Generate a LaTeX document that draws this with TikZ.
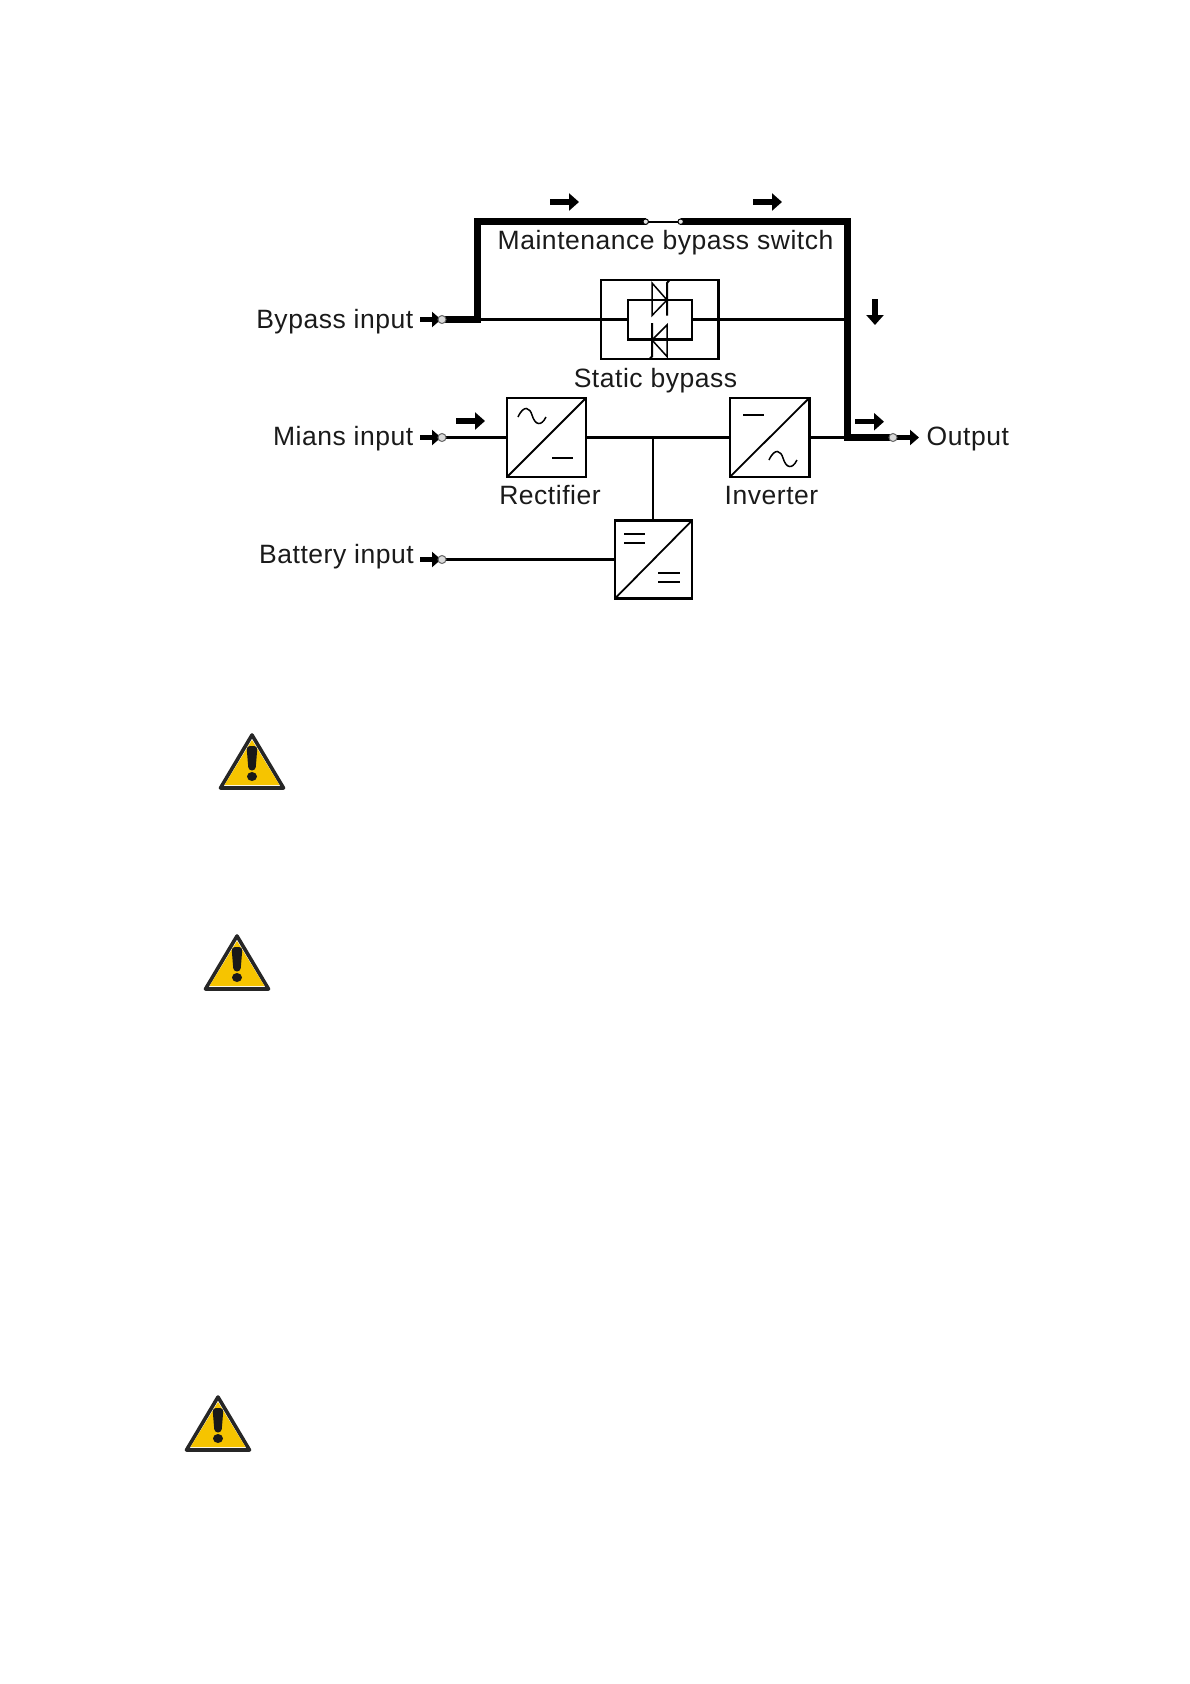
\documentclass[tikz,border=0pt]{standalone}
\usepackage{fontspec}
\setmainfont[LetterSpace=2.0]{Liberation Sans}
\usetikzlibrary{arrows.meta}
\definecolor{warnyellow}{HTML}{F6C400}
\definecolor{inkdark}{HTML}{1A1A1A}
\tikzset{
  lbl/.style={font=\fontsize{26.5}{30}\selectfont,text=inkdark,inner sep=0pt},
  thin wire/.style={line width=2.4pt,black},
  thick wire/.style={line width=6.5pt,black,line join=miter},
  blockbox/.style={draw=black,line width=2.5pt,minimum width=#1,inner sep=0pt,outer sep=0pt},
  flow/.style={line width=5.5pt,-{Triangle[length=10pt,width=17pt]},black},
  smallflow/.style={line width=5.5pt,-{Triangle[length=9pt,width=15pt]},black},
  terminal/.style={circle,draw=black!60,line width=1pt,fill=black!15,minimum size=8pt,inner sep=0pt},
  tinyterminal/.style={circle,draw=black,line width=1pt,fill=black!10,minimum size=5.5pt,inner sep=0pt},
  glyph/.style={line width=1.5pt,black},
  pics/warnsign/.style={code={
    \draw[line width=3.6pt,line join=round,black!85] (0,0) -- (31.5,53) -- (-31.5,53) -- cycle;
    \fill[warnyellow] (0,5) -- (27.5,50) -- (-27.5,50) -- cycle;
    \fill[black!90,rounded corners=3.5pt] (-5.5,11) -- (5.5,11) -- (3.5,35.5) -- (-3.5,35.5) -- cycle;
    \fill[black!90] (0,41.5) ellipse (5 and 4.5);
  }}
}
\begin{document}
\begin{tikzpicture}[x=1pt,y=-1pt]
\useasboundingbox (0,0) rectangle (1190,1684);
\fill[white] (0,0) rectangle (1190,1684);

% blocks
\node[blockbox=117.5pt,minimum height=79pt] (sb) at (659.5,319.5) {};
\node[blockbox=64pt,minimum height=39.5pt] (sbin) at (660,319.5) {};
\node[blockbox=79pt,minimum height=79pt] (rect) at (546.5,437.5) {};
\node[blockbox=79.5pt,minimum height=79pt] (inv) at (769.5,437.5) {};
\node[blockbox=77pt,minimum height=78pt] (dc) at (653.5,559.5) {};

% coordinates
\coordinate (byp) at (442,319.5);
\coordinate (tl) at (477.5,221.7);
\coordinate (tr) at (847.5,221.7);
\coordinate (busr) at (847.5,437.5);
\coordinate (byj) at (477.5,319.5);
\coordinate (orj) at (847.5,319.5);
\coordinate (junc) at (653,437.5);
\coordinate (mainsT) at (442,437.5);
\coordinate (battT) at (442,559.5);
\coordinate (swl) at (645.7,221.7);
\coordinate (swr) at (680.7,221.7);

% thin wires
\draw[thin wire] (byj) -- (sb.west);
\draw[thin wire] (sb.west) -- (sbin.west);
\draw[thin wire] (sbin.east) -- (sb.east);
\draw[thin wire] (sb.east) -- (orj);
\draw[thin wire] (mainsT) -- (rect.west);
\draw[thin wire] (rect.east) -- (inv.west);
\draw[thin wire] (inv.east) -- (busr);
\draw[thin wire] (junc) -- (dc.north -| junc);
\draw[thin wire] (battT) -- (dc.west);
\draw[line width=2pt] (swl) -- (swr);

% thick wires
\draw[thick wire] (byp) -- (byj) -- (tl) -- (swl);
\draw[thick wire] (swr) -- (tr) -- (busr) -- (893,437.5);

% terminals
\node[tinyterminal] (sw1) at (swl) {};
\node[tinyterminal] (sw2) at (swr) {};

% input arrows and terminals
\draw[smallflow] (420,319.5) -- (441,319.5);
\draw[smallflow] (420,437.5) -- (441,437.5);
\draw[smallflow] (420,559.5) -- (441,559.5);
\draw[smallflow] (893,437.5) -- (919,437.5);
\node[terminal] (t1) at (442,319.5) {};
\node[terminal] (t2) at (442,437.5) {};
\node[terminal] (t3) at (442,559.5) {};
\node[terminal] (t4) at (893,437.5) {};

% power-flow arrows
\draw[flow] (550,202) -- (579,202);
\draw[flow] (753,202) -- (782,202);
\draw[flow] (875,299) -- (875,325);
\draw[flow] (855,421.7) -- (884,421.7);
\draw[flow] (456,421) -- (485,421);

% thyristors
\draw[glyph] (667,300) -- (652,283) -- (652,315.5) -- (667,300);
\draw[line width=2pt] (667,315.5) -- (667,283) -- (669.5,280);
\draw[glyph] (652,340) -- (667,325) -- (667,356.5) -- (652,340);
\draw[line width=2pt] (652,323) -- (652,356.5) -- (649.5,359);

% converter glyphs
\draw[line width=1.8pt] (rect.south west) -- (rect.north east);
\draw[line width=1.8pt] (inv.south west) -- (inv.north east);
\draw[line width=1.8pt] (dc.south west) -- (dc.north east);
\draw[glyph] (518,417) .. controls (524,404) and (530,408) .. (532,415) .. controls (535,425) and (541,427) .. (546,417);
\draw[glyph] (552,458) -- (573,458);
\draw[glyph] (743,415) -- (764,415);
\draw[glyph] (769,460) .. controls (775,447) and (781,451) .. (783,458) .. controls (786,468) and (792,470) .. (797,460);
\draw[glyph] (624,534) -- (645,534) (624,543) -- (645,543);
\draw[glyph] (658,573) -- (680,573) (658,582) -- (680,582);

% labels
\node[lbl,anchor=base west] (lmb) at (497.5,249.5) {Maintenance bypass switch};
\node[lbl,anchor=base east] (lbp) at (413.5,328) {Bypass input};
\node[lbl,anchor=base] (lsb) at (655.5,387) {Static bypass};
\node[lbl,anchor=base east] (lmi) at (413.5,445) {Mians input};
\node[lbl,anchor=base] (lre) at (550,504.5) {Rectifier};
\node[lbl,anchor=base] (lin) at (771.5,504.5) {Inverter};
\node[lbl,anchor=base west] (lou) at (926.5,445) {Output};
\node[lbl,anchor=base east] (lba) at (414,563) {Battery input};

% warning signs
\pic at (252,735) {warnsign};
\pic at (237,936) {warnsign};
\pic at (218,1397) {warnsign};
\end{tikzpicture}
\end{document}
